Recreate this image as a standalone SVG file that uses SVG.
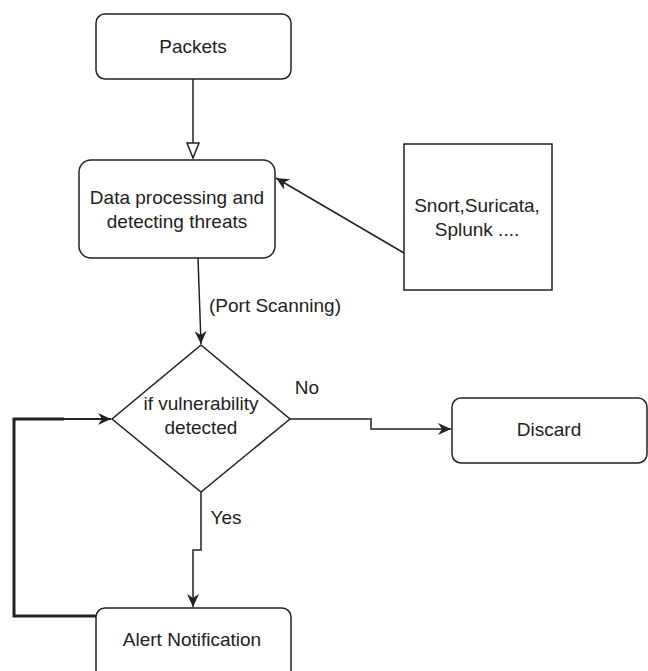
<svg xmlns="http://www.w3.org/2000/svg" width="648" height="671" viewBox="0 0 648 671">
<style>
.box{fill:#fff;stroke:#222;stroke-width:1.5}
.lbl{font-family:"Liberation Sans",Arial,sans-serif;font-size:19px;fill:#222;text-anchor:middle;dominant-baseline:central}
.edge{fill:none;stroke:#222;stroke-width:1.5}
</style>
<defs>
<marker id="arr" markerUnits="userSpaceOnUse" markerWidth="14" markerHeight="12" refX="13" refY="6" orient="auto">
<path d="M0,0 L13,6 L0,12 L4,6 Z" fill="#222"/>
</marker>
<marker id="open" markerUnits="userSpaceOnUse" markerWidth="18" markerHeight="14" refX="16" refY="7" orient="auto">
<path d="M1,1 L16,7 L1,13 Z" fill="#fff" stroke="#222" stroke-width="1.5"/>
</marker>
</defs>
<rect width="648" height="671" fill="#fff"/>
<g id="connectors">
<path class="edge" d="M193,79 V158" marker-end="url(#open)"/>
<path class="edge" d="M404,253 L276,178" marker-end="url(#arr)"/>
<path class="edge" d="M198,258 L201,344" marker-end="url(#arr)"/>
<path class="edge" d="M290,419 H371 V429 H451" marker-end="url(#arr)"/>
<path class="edge" d="M201,492 V550 H193 V607" marker-end="url(#arr)"/>
<path class="edge" d="M96,616 H14 V419 H64" style="stroke-width:3"/>
<path class="edge" d="M62,419 H111" marker-end="url(#arr)" style="stroke-width:2"/>
<text class="lbl" x="275" y="305">(Port Scanning)</text>
<text class="lbl" x="307" y="387">No</text>
<text class="lbl" x="226" y="517">Yes</text>
</g>
<g id="packets">
<rect class="box" x="96" y="14" width="195" height="65" rx="9"/>
<text class="lbl" x="193" y="46">Packets</text>
</g>
<g id="processing">
<rect class="box" x="79" y="160" width="196" height="98" rx="12"/>
<text class="lbl" x="177" y="197">Data processing and</text>
<text class="lbl" x="177" y="221">detecting threats</text>
</g>
<g id="tools">
<rect class="box" x="404" y="144" width="148" height="146"/>
<text class="lbl" x="477" y="205">Snort,Suricata,</text>
<text class="lbl" x="477" y="229">Splunk ....</text>
</g>
<g id="decision">
<path class="box" d="M201,345 L290,419 L201,492 L112,419 Z"/>
<text class="lbl" x="201" y="403">if vulnerability</text>
<text class="lbl" x="201" y="427">detected</text>
</g>
<g id="discard">
<rect class="box" x="452" y="398" width="195" height="65" rx="9"/>
<text class="lbl" x="549" y="429">Discard</text>
</g>
<g id="alert">
<rect class="box" x="96" y="608" width="195" height="75" rx="9"/>
<text class="lbl" x="192" y="639">Alert Notification</text>
</g>
</svg>
